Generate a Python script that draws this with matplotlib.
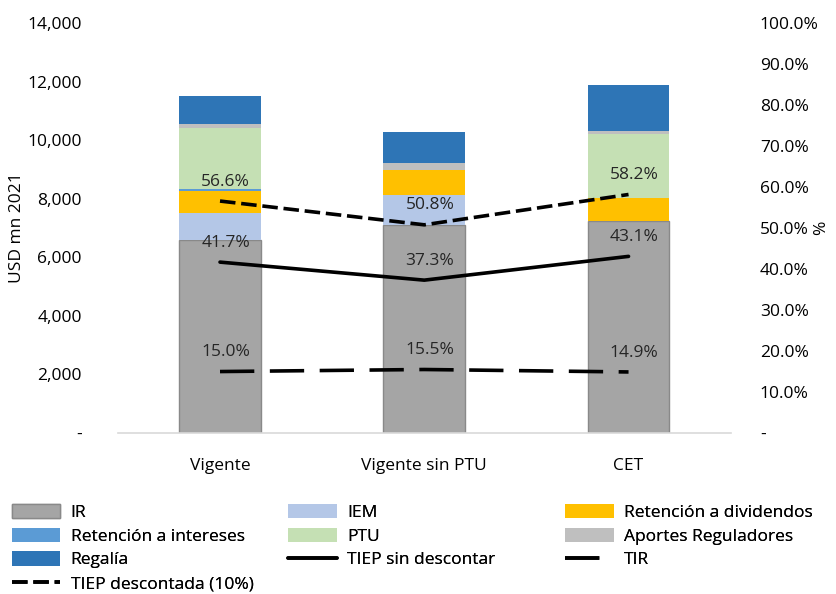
import numpy as np
import matplotlib.pyplot as plt
from matplotlib.ticker import FuncFormatter

plt.rcParams['font.family'] = ['Open Sans', 'DejaVu Sans']
plt.rcParams['font.size'] = 12.5

# Datos (USD mn 2021)
escenarios = ['Vigente', 'Vigente sin PTU', 'CET']
ir = [6610, 7120, 7250]
iem = [890, 1010, 0]
ret_div = [770, 870, 780]
ret_int = [50, 0, 0]
ptu = [2100, 0, 2170]
aportes = [150, 210, 110]
regalia = [930, 1060, 1570]

# Indicadores (%)
tiep_sin = [41.7, 37.3, 43.1]
tiep_desc = [56.6, 50.8, 58.2]
tir = [15.0, 15.5, 14.9]

componentes = [
    ('IR', ir, '#A5A5A5'),
    ('IEM', iem, '#B4C7E7'),
    ('Retención a dividendos', ret_div, '#FFC000'),
    ('Retención a intereses', ret_int, '#5B9BD5'),
    ('PTU', ptu, '#C5E0B4'),
    ('Aportes Reguladores', aportes, '#BFBFBF'),
    ('Regalía', regalia, '#2E75B6'),
]

fig = plt.figure(figsize=(8.36, 5.94), dpi=100)
ax = fig.add_axes([0.141, 0.271, 0.733, 0.690])
ax2 = ax.twinx()

x = np.arange(len(escenarios))
base = np.zeros(len(escenarios))
handles = {}
for nombre, valores, color in componentes:
    ec = '#898989' if nombre == 'IR' else color
    b = ax.bar(x, valores, 0.40, bottom=base, color=color, edgecolor=ec,
               linewidth=1 if nombre == 'IR' else 0, label=nombre, zorder=2)
    handles[nombre] = b
    base += np.array(valores)

ax.set_xlim(-0.5, 2.5)
ax.set_ylim(0, 14000)
ax.set_yticks(np.arange(0, 14001, 2000))
ax.yaxis.set_major_formatter(FuncFormatter(lambda v, p: '-' if v == 0 else f'{v:,.0f}'))
ax.set_xticks(x)
ax.set_xticklabels(escenarios)
ax.tick_params(axis='x', length=0, pad=18)
ax.tick_params(axis='y', length=0, pad=26)
ax.set_ylabel('USD mn 2021')
ax.yaxis.set_label_coords(-0.152, 0.5)

# eje derecho en %
ax2.set_ylim(0, 100)
ax2.set_yticks(np.arange(0, 101, 10))
ax2.yaxis.set_major_formatter(FuncFormatter(lambda v, p: '-' if v == 0 else f'{v:.1f}%'))
ax2.tick_params(axis='y', length=0, pad=21)
ax2.set_ylabel('%')
ax2.yaxis.set_label_coords(1.135, 0.5)

for a in (ax, ax2):
    for s in ['top', 'left', 'right']:
        a.spines[s].set_visible(False)
ax.spines['bottom'].set_color('#D9D9D9')
ax.spines['bottom'].set_linewidth(1.2)
ax2.spines['bottom'].set_visible(False)

l_sin, = ax2.plot(x, tiep_sin, color='black', lw=2.6, solid_capstyle='round',
                  label='TIEP sin descontar')
l_desc, = ax2.plot(x, tiep_desc, color='black', lw=2.6, dashes=(4.3, 1.6),
                   label='TIEP descontada (10%)')
l_tir, = ax2.plot(x, tir, color='black', lw=2.6, dashes=(9.5, 4.3),
                  label='TIR')

for serie in (tiep_sin, tiep_desc, tir):
    for xi, v in zip(x, serie):
        ax2.annotate(f'{v:.1f}%', (xi, v), xytext=(4, 14), textcoords='offset points',
                     ha='center', va='center', color='#262626')

# Leyenda en tres columnas
cols = [
    ([handles['IR'], handles['Retención a intereses'], handles['Regalía'], l_desc],
     ['IR', 'Retención a intereses', 'Regalía', 'TIEP descontada (10%)'], 0.014),
    ([handles['IEM'], handles['PTU'], l_sin],
     ['IEM', 'PTU', 'TIEP sin descontar'], 0.345),
    ([handles['Retención a dividendos'], handles['Aportes Reguladores'], l_tir],
     ['Retención a dividendos', 'Aportes Reguladores', 'TIR'], 0.676),
]
for hs, ls, xpos in cols:
    leg = fig.legend(hs, ls, loc='upper left', bbox_to_anchor=(xpos, 0.152),
                     frameon=False, handlelength=2.8, handleheight=0.9,
                     handletextpad=0.6, labelspacing=0.38, borderaxespad=0,
                     borderpad=0)
    fig.add_artist(leg)

fig.savefig('out.png', dpi=100)
